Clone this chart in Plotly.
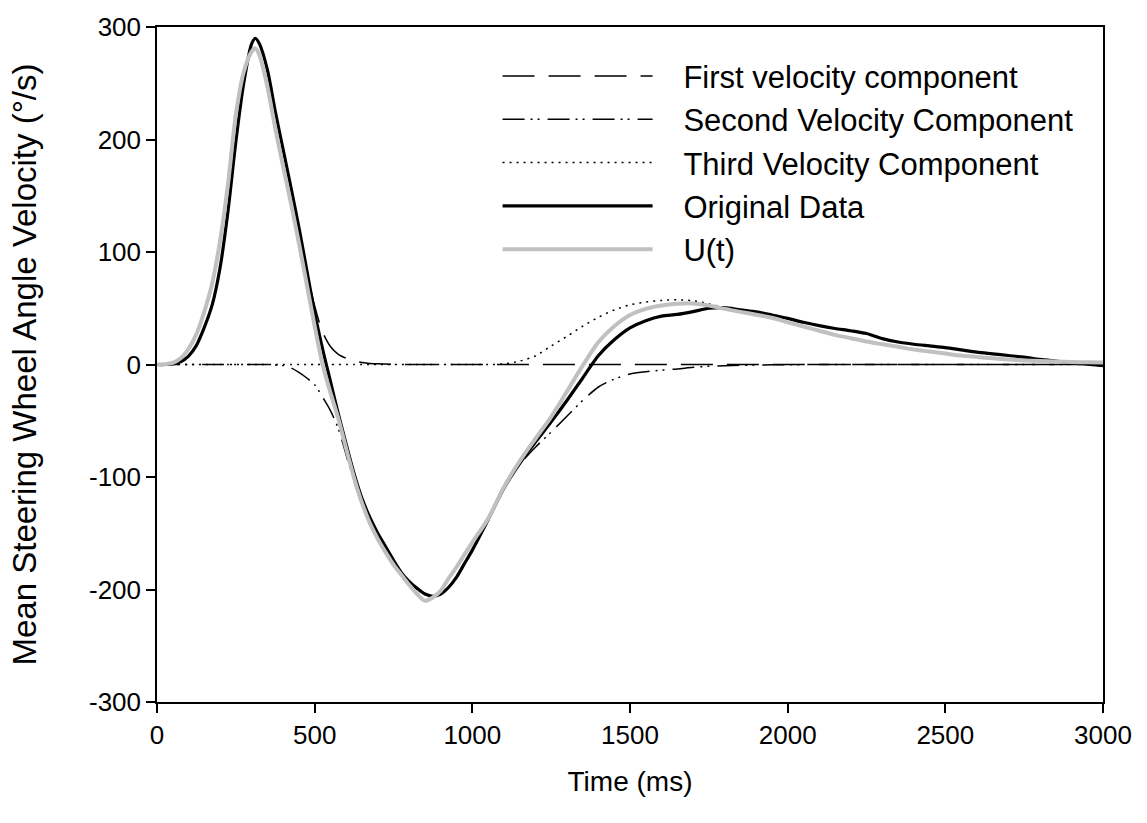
import plotly.graph_objects as go

time_ms = [0, 25, 50, 75, 100, 125, 150, 175, 200, 225, 250, 275, 300, 312, 325, 350, 375, 400, 425, 450, 475,
           500, 525, 550, 575, 600, 625, 650, 675, 700, 725, 750, 775, 800, 825, 850, 875, 900, 925, 950, 975,
           1000, 1050, 1100, 1150, 1200, 1250, 1300, 1350, 1400, 1450, 1500, 1550, 1600, 1650, 1700, 1750,
           1800, 1850, 1900, 1950, 2000, 2050, 2100, 2150, 2200, 2250, 2300, 2350, 2400, 2450, 2500, 2550,
           2600, 2650, 2700, 2750, 2800, 2850, 2900, 2950, 3000]

first_component = [0, 0.3, 1.5, 5.5, 14, 27, 47, 72, 110, 160, 222, 260, 278, 281, 275, 248, 211, 177, 146, 115, 83,
                   52, 29, 16, 9, 5.5, 3, 1.8, 1, 0.6, 0.4, 0.2, 0, 0, 0, 0, 0, 0, 0, 0, 0,
                   0, 0, 0, 0, 0, 0, 0, 0, 0, 0, 0, 0, 0, 0, 0, 0,
                   0, 0, 0, 0, 0, 0, 0, 0, 0, 0, 0, 0, 0, 0, 0, 0,
                   0, 0, 0, 0, 0, 0, 0, 0, 0]

second_component = [0, 0, 0, 0, 0, 0, 0, 0, 0, 0, 0, 0, 0, 0, 0, 0, -0.5, -1, -3, -7, -12,
                    -18, -29, -41, -57, -80.5, -104, -125, -142, -156, -167, -178, -187, -196, -204, -210, -207, -201, -190, -180, -169,
                    -158, -137, -109.5, -89, -73.6, -60, -46, -32, -20, -13, -8.5, -6.5, -5, -4, -2.5, -1.6,
                    -1, -0.7, -0.5, -0.3, -0.2, -0.1, 0, 0, 0, 0, 0, 0, 0, 0, 0, 0,
                    0, 0, 0, 0, 0, 0, 0, 0, 0]

third_component = [0, 0, 0, 0, 0, 0, 0, 0, 0, 0, 0, 0, 0, 0, 0, 0, 0, 0, 0, 0, 0,
                   0, 0, 0, 0, 0, 0, 0, 0, 0, 0, 0, 0, 0, 0, 0, 0, 0, 0, 0, 0,
                   0, 0, 0.5, 3, 7.6, 16.5, 25, 34, 42, 48.5, 53, 55.5, 57, 57.5, 56.7, 54,
                   50.5, 47.5, 44.7, 41.8, 37.7, 33.9, 30, 26.3, 23.4, 20.4, 18, 15.7, 13.4, 11.5, 9.7, 7.9,
                   6.7, 5.5, 4.4, 3.6, 3.1, 2.6, 2.2, 1.9, 1.7]

original_data = [0, 0, 0.5, 2.5, 7.5, 17, 33, 53, 86, 136, 198, 250, 285, 290, 285, 262, 225, 191, 157, 122, 84,
                 46, 14, -15, -44, -71, -97, -119, -136, -150, -162, -174, -185, -193, -199, -204, -206, -204, -198, -189, -177,
                 -165, -138, -110, -88, -69, -51, -32, -12, 8, 22, 32.6, 39, 43, 44.5, 47, 50,
                 50.5, 48.5, 46.8, 44, 41, 37.5, 34.5, 32, 30, 27.5, 23, 20, 18, 16.5, 15, 13,
                 11, 9.5, 8, 6.5, 4.5, 3, 1.5, 0.3, -1]

u_t = [0, 0.3, 1.5, 5.5, 14, 27, 47, 72, 110, 160, 222, 260, 278, 281, 275, 247, 210, 176, 143, 108, 71,
       34, 0, -25, -48, -75, -101, -123, -141, -155, -167, -178, -187, -196, -204, -210, -207, -201, -190, -180, -169,
       -158, -137, -109, -86, -66, -46.5, -24, -1, 20, 34, 44, 49.5, 52.5, 54, 54.3, 52.4,
       49.5, 46.8, 44.2, 41.5, 37.5, 33.8, 30, 26.3, 23.4, 20.4, 18, 15.7, 13.4, 11.5, 9.7, 7.9,
       6.7, 5.5, 4.4, 3.6, 3.1, 2.6, 2.2, 1.9, 1.7]

x_ticks = [0, 500, 1000, 1500, 2000, 2500, 3000]
y_ticks = [-300, -200, -100, 0, 100, 200, 300]
y_tick_text = ["-300", "-200", "-100", "0", "100", "200", "300"]

NB = "\u00a0\u00a0\u00a0"
series = [
    ("First velocity component", first_component, dict(color="black", width=1.5, dash="32px,14px")),
    ("Second Velocity Component", second_component, dict(color="black", width=1.5, dash="22px,6px,2px,5px,2px,8px")),
    ("Third Velocity Component", third_component, dict(color="black", width=1.5, dash="2px,5px")),
    ("Original Data", original_data, dict(color="black", width=3.2)),
    ("U(t)", u_t, dict(color="#c0c0c0", width=4)),
]

fig = go.Figure()
for name, vals, line in series:
    fig.add_trace(go.Scatter(x=time_ms, y=vals, mode="lines", name=NB + name,
                             line=dict(shape="spline", smoothing=0.8, **line)))

axis_common = dict(showgrid=False, zeroline=False, showline=True, linecolor="black", linewidth=1.5,
                   mirror=True, ticks="outside", ticklen=9, tickwidth=1.5, tickcolor="black",
                   tickfont=dict(size=26, color="black"))

fig.update_layout(
    width=1147, height=823,
    margin=dict(l=157, r=44, t=22, b=121),
    plot_bgcolor="white", paper_bgcolor="white",
    font=dict(family="Liberation Sans, Arial, sans-serif", size=26, color="black"),
    xaxis=dict(range=[0, 3000], tickvals=x_ticks, title=dict(text="Time (ms)", font=dict(size=28), standoff=22),
               **axis_common),
    yaxis=dict(range=[-300, 300], tickvals=y_ticks, ticktext=y_tick_text,
               title=dict(text="Mean Steering Wheel Angle Velocity (°/s)", font=dict(size=33), standoff=42),
               **axis_common),
    legend=dict(x=0.36, y=0.967, xanchor="left", yanchor="top", bgcolor="rgba(0,0,0,0)",
                itemwidth=150, font=dict(size=31), tracegroupgap=0),
    showlegend=True,
)

fig.write_html("out.html")
